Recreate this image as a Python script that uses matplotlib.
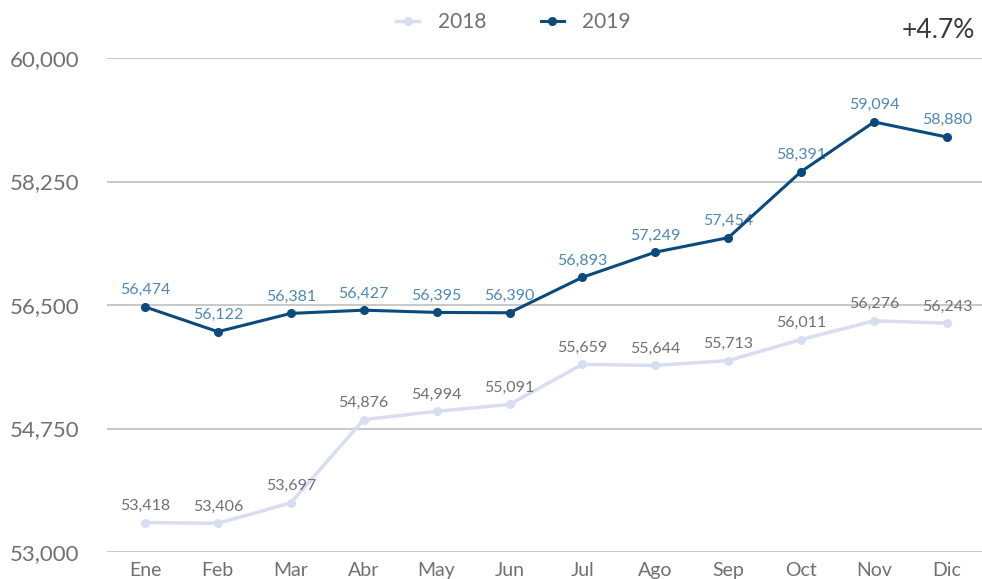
import matplotlib
matplotlib.use("Agg")
import matplotlib.pyplot as plt
from matplotlib.ticker import FuncFormatter

months = ["Ene", "Feb", "Mar", "Abr", "May", "Jun", "Jul", "Ago", "Sep", "Oct", "Nov", "Dic"]
values_2018 = [53418, 53406, 53697, 54876, 54994, 55091, 55659, 55644, 55713, 56011, 56276, 56243]
values_2019 = [56474, 56122, 56381, 56427, 56395, 56390, 56893, 57249, 57454, 58391, 59094, 58880]
yticks = [53000, 54750, 56500, 58250, 60000]
change_label = "+4.7%"

plt.rcParams['font.family'] = ['Lato', 'DejaVu Sans']

fig = plt.figure(figsize=(9.82, 5.79), dpi=100)
ax = fig.add_axes([0.109, 0.0466, 0.891, 0.8532])

c18 = "#d9ddf2"
c19 = "#0b4a7d"
x = list(range(len(months)))

ax.plot(x, values_2018, color=c18, lw=2.5, marker="o", ms=5.5, label="2018", zorder=3)
ax.plot(x, values_2019, color=c19, lw=2.2, marker="o", ms=5.5, label="2019", zorder=4)

for xi, v in zip(x, values_2018):
    ax.annotate(f"{v:,}", (xi, v), xytext=(0, 7), textcoords="offset points",
                ha="center", va="bottom", fontsize=11.5, color="#707070")
for xi, v in zip(x, values_2019):
    ax.annotate(f"{v:,}", (xi, v), xytext=(0, 7), textcoords="offset points",
                ha="center", va="bottom", fontsize=11.5, color="#4f87b5")

ax.set_ylim(53000, 60000)
ax.set_xlim(-0.52, 11.48)
ax.set_yticks(yticks)
ax.yaxis.set_major_formatter(FuncFormatter(lambda v, p: f"{int(v):,}"))
ax.set_xticks(x)
ax.set_xticklabels(months)
ax.grid(axis="y", color="#bfbfbf", lw=1.2)
ax.set_axisbelow(True)
for s in ax.spines.values():
    s.set_visible(False)
ax.tick_params(axis="y", length=0, pad=20, labelsize=16, labelcolor="#707070")
ax.tick_params(axis="x", length=0, pad=7, labelsize=14, labelcolor="#707070")

fig.legend(loc="upper center", bbox_to_anchor=(0.523, 1.012), ncol=2, frameon=False,
           prop={"size": 15}, labelcolor="#707070", handlelength=1.1,
           columnspacing=2.6, handletextpad=0.9)
fig.text(0.993, 0.948, change_label, ha="right", va="center", fontsize=19, color="#3a3a3a")

fig.savefig("out.png", dpi=100)
